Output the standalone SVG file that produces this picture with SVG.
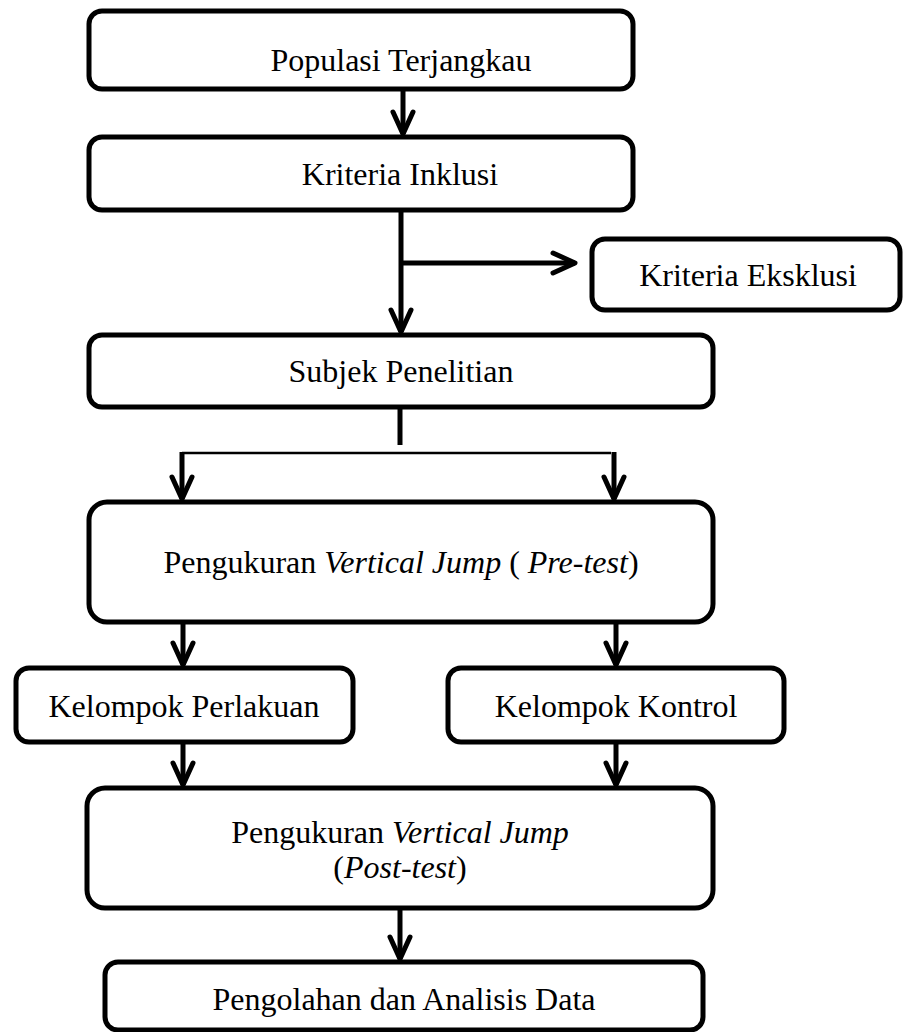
<svg xmlns="http://www.w3.org/2000/svg" width="903" height="1032" viewBox="0 0 903 1032">
<style>
.box{fill:#fff;stroke:#000;stroke-width:5}
.t{font-family:"Liberation Serif","Times New Roman",serif;font-size:32px;text-anchor:middle;fill:#000}
.i{font-style:italic}
.c{stroke:#000;stroke-width:5;fill:none}
.thin{stroke-width:2.5}
</style>
<defs>
<marker id="ah" viewBox="-26 -14 30 28" refX="0" refY="0" markerWidth="30" markerHeight="28" markerUnits="userSpaceOnUse" orient="auto">
<path d="M-22,-10 L0,0 L-22,10" fill="none" stroke="#000" stroke-width="5" stroke-linejoin="round" stroke-linecap="round"/>
</marker>
</defs>
<rect width="903" height="1032" fill="#fff"/>
<g id="n1"><rect class="box" x="89" y="11" width="544" height="78" rx="13"/><text class="t" x="401" y="71">Populasi Terjangkau</text></g>
<g id="n2"><rect class="box" x="89" y="137" width="544" height="73" rx="13"/><text class="t" x="400" y="185">Kriteria Inklusi</text></g>
<g id="n3"><rect class="box" x="592" y="239" width="308" height="71" rx="13"/><text class="t" x="748" y="286">Kriteria Eksklusi</text></g>
<g id="n4"><rect class="box" x="89" y="335" width="624" height="72" rx="13"/><text class="t" x="401" y="382">Subjek Penelitian</text></g>
<g id="n5"><rect class="box" x="89" y="502" width="624" height="120" rx="18"/><text class="t" x="401" y="573">Pengukuran <tspan class="i">Vertical Jump</tspan> ( <tspan class="i">Pre-test</tspan>)</text></g>
<g id="n6"><rect class="box" x="16" y="668" width="337" height="74" rx="13"/><text class="t" x="184" y="717">Kelompok Perlakuan</text></g>
<g id="n7"><rect class="box" x="448" y="668" width="336" height="74" rx="13"/><text class="t" x="616" y="717">Kelompok Kontrol</text></g>
<g id="n8"><rect class="box" x="87" y="788" width="626" height="120" rx="18"/><text class="t" x="400" y="843">Pengukuran <tspan class="i">Vertical Jump</tspan></text><text class="t" x="400" y="878">(<tspan class="i">Post-test</tspan>)</text></g>
<g id="n9"><rect class="box" x="105" y="962" width="598" height="68" rx="13"/><text class="t" x="404" y="1010">Pengolahan dan Analisis Data</text></g>
<g id="connectors">
<path class="c" d="M403,89 V134" marker-end="url(#ah)"/>
<path class="c" d="M401,212 V332" marker-end="url(#ah)"/>
<path class="c" d="M401,263 H575" marker-end="url(#ah)"/>
<path class="c" d="M400,407 V445"/>
<path class="c thin" d="M182,453 H611"/>
<path class="c" d="M182,452 V499" marker-end="url(#ah)"/>
<path class="c" d="M614,452 V499" marker-end="url(#ah)"/>
<path class="c" d="M183,622 V665" marker-end="url(#ah)"/>
<path class="c" d="M616,622 V665" marker-end="url(#ah)"/>
<path class="c" d="M183,742 V785" marker-end="url(#ah)"/>
<path class="c" d="M616,742 V785" marker-end="url(#ah)"/>
<path class="c" d="M400,908 V959" marker-end="url(#ah)"/>
</g>
</svg>
